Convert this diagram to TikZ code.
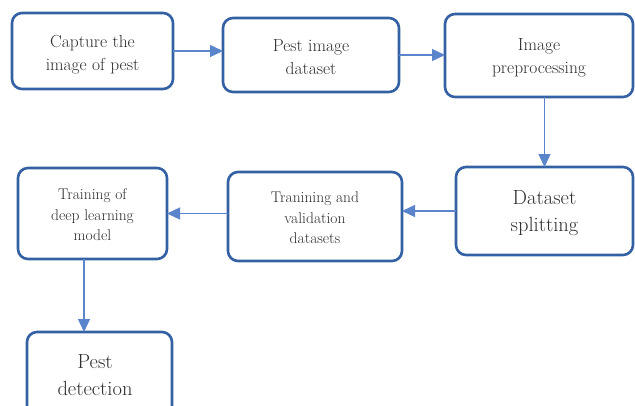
\documentclass[tikz,border=0pt]{standalone}
\usetikzlibrary{arrows.meta}
\definecolor{boxblue}{HTML}{3461A3}
\definecolor{arrblue}{HTML}{5A84CC}
\definecolor{txt}{HTML}{2E2E2E}
\newcommand{\lowtext}[2]{\raisebox{#1}[0pt][0pt]{\begin{tabular}{@{}c@{}}#2\end{tabular}}}
\tikzset{
  box/.style={draw=boxblue, line width=2.6pt, rounded corners=10pt, fill=white,
    align=center, text=txt, inner sep=0pt, outer sep=0pt},
  bigtext/.style={font=\fontsize{17.5}{23.5}\selectfont},
  smalltext/.style={font=\fontsize{15.5}{20.5}\selectfont},
  hugetext/.style={font=\fontsize{20.5}{27}\selectfont},
  arr/.style={draw=arrblue, line width=1.3pt, -{Triangle[length=13pt,width=12pt]}}
}
\begin{document}
\begin{tikzpicture}[x=1pt,y=-1pt]
\clip (0,0) rectangle (635,405);
\fill[white] (0,0) rectangle (635,405);
\node[box,bigtext,minimum width=161pt,minimum height=76pt] (n1) at (92.5,51) {\lowtext{-7.5pt}{Capture the\\image of pest}};
\node[box,bigtext,minimum width=176pt,minimum height=74pt] (n2) at (311,55) {\lowtext{-7.5pt}{Pest image\\dataset}};
\node[box,bigtext,minimum width=188pt,minimum height=83pt] (n3) at (539,55.5) {\lowtext{-6pt}{Image\\preprocessing}};
\node[box,hugetext,minimum width=177pt,minimum height=88pt] (n4) at (544.5,211) {\lowtext{-7pt}{Dataset\\splitting}};
\node[box,smalltext,minimum width=174pt,minimum height=89pt] (n5) at (315,216.5) {\lowtext{-6pt}{Tranining and\\validation\\datasets}};
\node[box,smalltext,minimum width=149pt,minimum height=91pt] (n6) at (92.5,213.5) {\lowtext{-6pt}{Training of\\deep learning\\model}};
\node[box,minimum width=145pt,minimum height=96pt] (n7) at (99.5,380) {};
\node[hugetext,text=txt,align=center] (t7) at (95,375) {Pest\\detection};
\coordinate (c6) at (84,0);
\draw[arr] (n1.east) -- (n1.east -| n2.west);
\draw[arr] (n2.east) -- (n2.east -| n3.west);
\draw[arr] (n4.north |- n3.south) -- (n4.north);
\draw[arr] (n4.west) -- (n4.west -| n5.east);
\draw[arr] (n6.east -| n5.west) -- (n6.east);
\draw[arr] (c6 |- n6.south) -- (c6 |- n7.north);
\end{tikzpicture}
\end{document}
